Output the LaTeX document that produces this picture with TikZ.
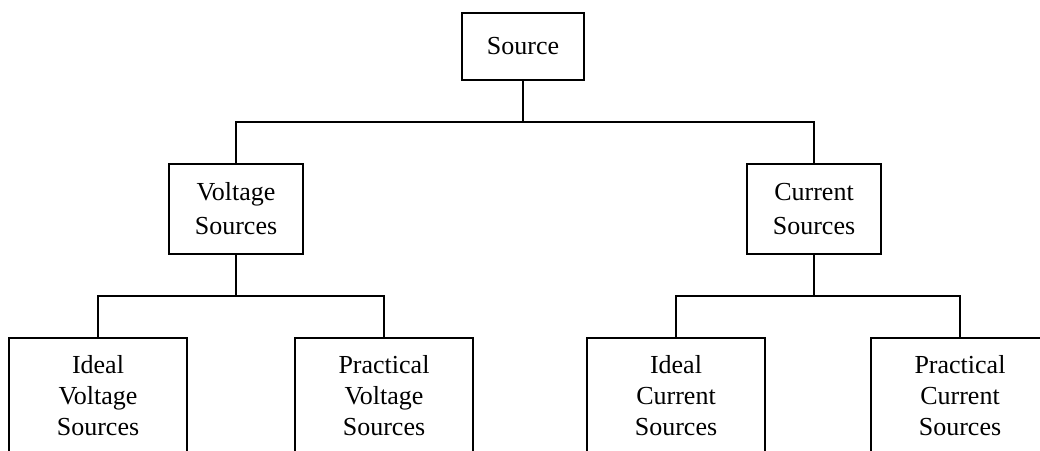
\documentclass[tikz,border=0pt]{standalone}
\usepackage{fontspec}
\setmainfont{Liberation Serif}
\usetikzlibrary{positioning}

\tikzset{
  box/.style={draw, line width=1.5pt, inner sep=0pt, align=center,
              font=\fontsize{26}{31}\selectfont},
  topbox/.style={box, minimum width=122pt, minimum height=67pt},
  midbox/.style={box, minimum width=134pt, minimum height=90pt,
                 font=\fontsize{26}{34}\selectfont},
  leafbox/.style={box, minimum width=178pt, minimum height=116pt, anchor=north},
  wire/.style={line width=1.5pt}
}

\begin{document}
\begin{tikzpicture}[x=1pt, y=-1pt]

\useasboundingbox (0,0) rectangle (1040,450);

\node [topbox] (src) at (523,46.5) {Source};

\node [midbox] (vs) at (236,209) {Voltage\\Sources};
\node [midbox] (cs) at (814,209) {Current\\Sources};

\node [leafbox] (ivs) at (98,337) {Ideal\\Voltage\\Sources};
\node [leafbox] (pvs) at (384,337) {Practical\\Voltage\\Sources};
\node [leafbox] (ics) at (676,337) {Ideal\\Current\\Sources};
\node [leafbox] (pcs) at (960,337) {Practical\\Current\\Sources};

\coordinate (top) at (523,122);
\coordinate (vbar) at (vs.south |- 0,296);
\coordinate (cbar) at (cs.south |- 0,296);

\draw [wire] (src.south) -- (top);
\draw [wire] (vs.north) |- (top) -| (cs.north);

\draw [wire] (vs.south) -- (vbar);
\draw [wire] (ivs.north) |- (vbar) -| (pvs.north);

\draw [wire] (cs.south) -- (cbar);
\draw [wire] (ics.north) |- (cbar) -| (pcs.north);

\end{tikzpicture}
\end{document}
